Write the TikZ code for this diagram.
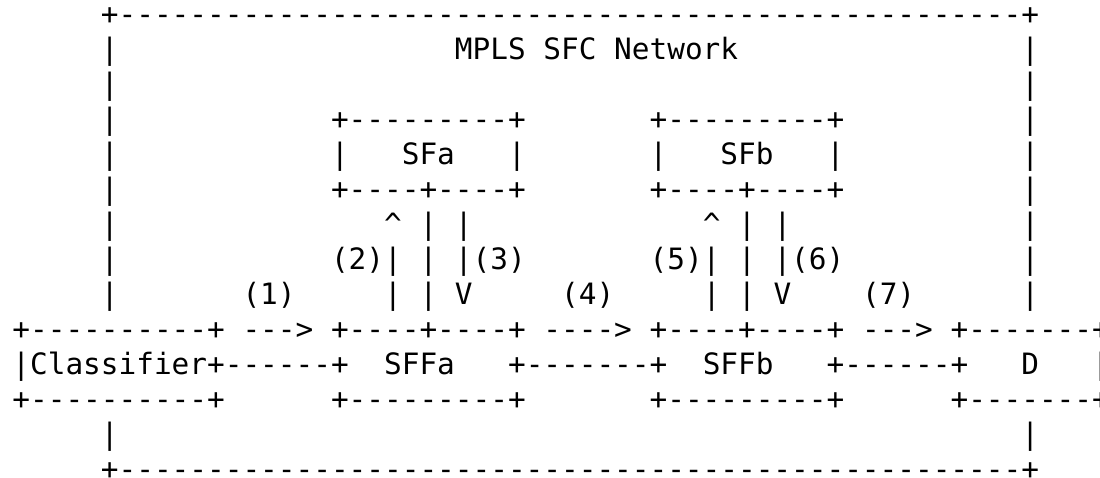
\documentclass[tikz,border=0pt]{standalone}
\usepackage{fontspec}
\setmonofont{DejaVu Sans Mono}
\usepackage{tikz}
\usetikzlibrary{positioning}

\begin{document}
\begin{tikzpicture}[x=6.0205pt, y=11.905pt,
   art/.style={font=\ttfamily\fontsize{10}{12}\selectfont, anchor=base west, inner sep=0pt, outer sep=0pt}]
   \useasboundingbox (-0.7034,0.7) rectangle (61.444,-12.957);
   % outer network box
   \node[art] (nettop) at (5,0) {+---------------------------------------------------+};
   \node[art] (netbot) at (5,-13) {+---------------------------------------------------+};
   \foreach \r in {1,2,3,4,5,6,7,8,12}{
      \node[art] (wl\r) at (5,-\r) {|};
      \node[art] (wr\r) at (57,-\r) {|};
   }
   \node[art] (title) at (25,-1) {MPLS SFC Network};
   % SFa
   \node[art] (sfatop) at (18,-3) {+---------+};
   \node[art] (sfal) at (18,-4) {|};
   \node[art] (sfa) at (22,-4) {SFa};
   \node[art] (sfar) at (28,-4) {|};
   \node[art] (sfabot) at (18,-5) {+----+----+};
   % SFb
   \node[art] (sfbtop) at (36,-3) {+---------+};
   \node[art] (sfbl) at (36,-4) {|};
   \node[art] (sfb) at (40,-4) {SFb};
   \node[art] (sfbr) at (46,-4) {|};
   \node[art] (sfbbot) at (36,-5) {+----+----+};
   % links to the SFs
   \node[art] (upa) at (21,-6) {\textasciicircum{} | |};
   \node[art] (upb) at (39,-6) {\textasciicircum{} | |};
   \node[art] (stepa) at (18,-7) {(2)| | |(3)};
   \node[art] (stepb) at (36,-7) {(5)| | |(6)};
   \node[art] (downa) at (21,-8) {| | V};
   \node[art] (downb) at (39,-8) {| | V};
   \node[art] (lab1) at (13,-8) {(1)};
   \node[art] (lab4) at (31,-8) {(4)};
   \node[art] (lab7) at (48,-8) {(7)};
   % forwarders row
   \node[art] (clstop) at (0,-9) {+----------+};
   \node[art] (arr1) at (13,-9) {--->};
   \node[art] (sffatop) at (18,-9) {+----+----+};
   \node[art] (arr4) at (30,-9) {---->};
   \node[art] (sffbtop) at (36,-9) {+----+----+};
   \node[art] (arr7) at (48,-9) {--->};
   \node[art] (dtop) at (53,-9) {+-------+};
   \node[art] (cls) at (0,-10) {|Classifier+------+};
   \node[art] (sffa) at (21,-10) {SFFa};
   \node[art] (linkab) at (28,-10) {+-------+};
   \node[art] (sffb) at (39,-10) {SFFb};
   \node[art] (linkbd) at (46,-10) {+------+};
   \node[art] (d) at (57,-10) {D};
   \node[art] (dr) at (61,-10) {|};
   \node[art] (clsbot) at (0,-11) {+----------+};
   \node[art] (sffabot) at (18,-11) {+---------+};
   \node[art] (sffbbot) at (36,-11) {+---------+};
   \node[art] (dbot) at (53,-11) {+-------+};
\end{tikzpicture}
\end{document}
